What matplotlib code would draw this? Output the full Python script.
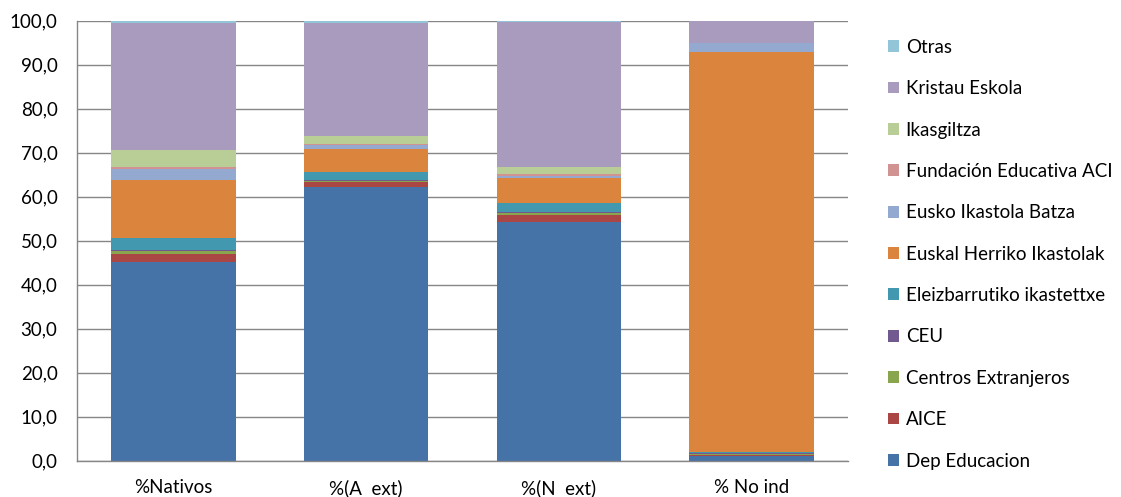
import matplotlib
matplotlib.use("Agg")
import matplotlib.pyplot as plt
import numpy as np

plt.rcParams['font.family'] = ['Lato', 'DejaVu Sans']

categories = ['%Nativos', '%(A  ext)', '%(N  ext)', '% No ind']

series_names = ['Dep Educacion', 'AICE', 'Centros Extranjeros', 'CEU',
                'Eleizbarrutiko ikastettxe', 'Euskal Herriko Ikastolak',
                'Eusko Ikastola Batza', 'Fundación Educativa ACI',
                'Ikasgiltza', 'Kristau Eskola', 'Otras']

dep_educacion = [45.1, 62.3, 54.2, 1.1]
aice = [1.9, 1.1, 1.6, 0.3]
centros_extranjeros = [0.6, 0.2, 0.5, 0.1]
ceu = [0.3, 0.1, 0.2, 0.2]
eleizbarrutiko = [2.7, 1.9, 2.1, 0.2]
euskal_herriko = [13.3, 5.2, 5.7, 91.1]
eusko_ikastola = [2.5, 0.9, 0.5, 1.9]
fundacion_aci = [0.4, 0.2, 0.4, 0.0]
ikasgiltza = [3.9, 1.8, 1.5, 0.0]
kristau_eskola = [28.7, 25.8, 33.1, 5.1]
otras = [0.6, 0.5, 0.2, 0.0]

series = [dep_educacion, aice, centros_extranjeros, ceu, eleizbarrutiko,
          euskal_herriko, eusko_ikastola, fundacion_aci, ikasgiltza,
          kristau_eskola, otras]

colors = ['#4572A7', '#AA4643', '#89A54E', '#71588F', '#4198AF', '#DB843D',
          '#93A9CF', '#D19392', '#B9CD96', '#A99BBD', '#92C5D8']

fs = 13.5

fig = plt.figure(figsize=(11.21, 4.97), dpi=100)
ax = fig.add_axes([0.0687, 0.073, 0.6878, 0.8853])

x = np.arange(len(categories))
bottom = np.zeros(len(categories))
handles = []
for name, vals, c in zip(series_names, series, colors):
    b = ax.bar(x, vals, 0.645, bottom=bottom, color=c, label=name, linewidth=0)
    handles.append(b)
    bottom += np.array(vals)

ax.set_xlim(-0.5, len(categories) - 0.5)
ax.set_ylim(0, 100)
ax.set_yticks(np.arange(0, 101, 10))
ax.set_yticklabels([f'{v:.1f}'.replace('.', ',') for v in np.arange(0, 101, 10)])
ax.set_xticks(x)
ax.set_xticklabels(categories)
ax.tick_params(axis='y', length=0, pad=14, labelsize=fs)
ax.tick_params(axis='x', length=0, pad=13, labelsize=fs)
ax.yaxis.grid(True, color='#868686', linewidth=1)
ax.set_axisbelow(True)
for s in ['top', 'right']:
    ax.spines[s].set_visible(False)
for s in ['left', 'bottom']:
    ax.spines[s].set_color('#868686')
    ax.spines[s].set_linewidth(1)

fig.legend(handles[::-1], series_names[::-1], loc='upper left',
           bbox_to_anchor=(0.792, 0.922), frameon=False, fontsize=fs,
           handlelength=0.6, handleheight=0.6, handletextpad=0.35,
           labelspacing=1.3, borderaxespad=0, borderpad=0)

fig.savefig('out.png', dpi=100)
